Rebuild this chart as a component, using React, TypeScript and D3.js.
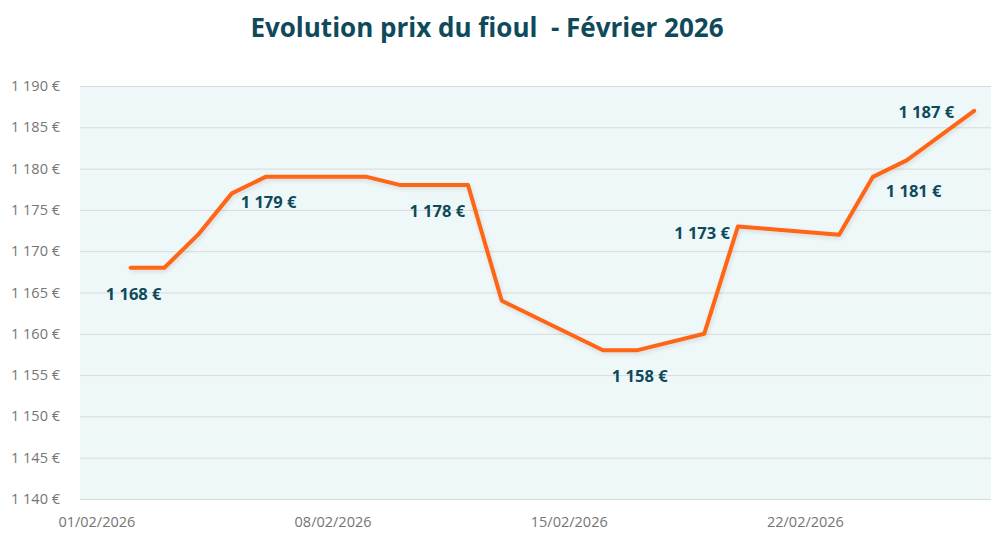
import { useEffect, useRef } from 'react'
import * as d3 from 'd3'

// daily price points (only the days that appear on the line)
const dates: string[] = [
  '2026-02-02', '2026-02-03', '2026-02-04', '2026-02-05', '2026-02-06',
  '2026-02-09', '2026-02-10', '2026-02-11', '2026-02-12', '2026-02-13',
  '2026-02-16', '2026-02-17', '2026-02-19', '2026-02-20', '2026-02-23',
  '2026-02-24', '2026-02-25', '2026-02-27',
]
const prices: number[] = [
  1168, 1168, 1172, 1177, 1179,
  1179, 1178, 1178, 1178, 1164,
  1158, 1158, 1160, 1173, 1172,
  1179, 1181, 1187,
]
// points that carry a value label
const labelledDates: string[] = [
  '2026-02-02', '2026-02-06', '2026-02-11', '2026-02-17', '2026-02-20', '2026-02-25', '2026-02-27',
]
const xTickDates: string[] = ['2026-02-01', '2026-02-08', '2026-02-15', '2026-02-22']
const yTicks: number[] = [1140, 1145, 1150, 1155, 1160, 1165, 1170, 1175, 1180, 1185, 1190]

const title = 'Evolution prix du fioul  - Février 2026'

const parse = d3.timeParse('%Y-%m-%d')
const fmtDate = d3.timeFormat('%d/%m/%Y')
const fmtEuro = (v: number) => d3.format(',')(v).replace(/,/g, ' ') + ' €'

// label placement relative to its point: anchor, dx, dy
const placement: Record<string, [string, number, number]> = {
  '2026-02-02': ['middle', 3, 32],
  '2026-02-06': ['middle', 3, 31],
  '2026-02-11': ['middle', 3, 32],
  '2026-02-17': ['middle', 3, 32],
  '2026-02-20': ['end', -8, 13],
  '2026-02-25': ['middle', 7, 37],
  '2026-02-27': ['end', -20, 7],
}

const App = () => {
  const svgRef = useRef<SVGSVGElement | null>(null)

  useEffect(() => {
    const width = 1006
    const height = 548
    const margin = { top: 86, right: 15, bottom: 49, left: 80 }
    const innerWidth = width - margin.left - margin.right
    const innerHeight = height - margin.top - margin.bottom

    const svg = d3.select(svgRef.current)
    svg.selectAll('*').remove()
    svg.attr('width', width).attr('height', height).attr('viewBox', `0 0 ${width} ${height}`)

    const data = dates.map((d, i) => ({ date: parse(d)!, price: prices[i], key: d }))

    const start = d3.timeHour.offset(parse('2026-01-31')!, 12)
    const end = d3.timeHour.offset(parse('2026-02-27')!, 12)
    const x = d3.scaleTime().domain([start, end]).range([0, innerWidth])
    const y = d3.scaleLinear().domain([1140, 1190]).range([innerHeight, 0])

    const defs = svg.append('defs')
    const shadow = defs.append('filter').attr('id', 'line-shadow').attr('x', '-5%').attr('y', '-5%').attr('width', '110%').attr('height', '120%')
    shadow
      .append('feDropShadow')
      .attr('dx', 1)
      .attr('dy', 2)
      .attr('stdDeviation', 2)
      .attr('flood-color', '#000')
      .attr('flood-opacity', 0.12)

    svg
      .append('text')
      .attr('x', 487)
      .attr('y', 37)
      .attr('text-anchor', 'middle')
      .attr('font-family', '"Open Sans", sans-serif')
      .attr('font-weight', 700)
      .attr('font-size', 26)
      .attr('fill', '#0e4a5b')
      .style('white-space', 'pre')
      .text(title)

    const g = svg.append('g').attr('transform', `translate(${margin.left},${margin.top})`)

    g.append('rect').attr('width', innerWidth).attr('height', innerHeight).attr('fill', '#eff8f9')

    g.append('g')
      .selectAll('line')
      .data(yTicks)
      .join('line')
      .attr('x1', 0)
      .attr('x2', innerWidth)
      .attr('y1', (d) => y(d) + 0.5)
      .attr('y2', (d) => y(d) + 0.5)
      .attr('stroke', '#d9d9d9')
      .attr('stroke-width', 1)

    g.append('g')
      .selectAll('text')
      .data(yTicks)
      .join('text')
      .attr('x', -20)
      .attr('y', (d) => y(d) + 5)
      .attr('text-anchor', 'end')
      .attr('font-family', '"Open Sans", sans-serif')
      .attr('font-size', 14.5)
      .attr('fill', '#757575')
      .text((d) => fmtEuro(d))

    g.append('g')
      .selectAll('text')
      .data(xTickDates.map((d) => parse(d)!))
      .join('text')
      .attr('x', (d) => x(d))
      .attr('y', innerHeight + 28)
      .attr('text-anchor', 'middle')
      .attr('font-family', '"Open Sans", sans-serif')
      .attr('font-size', 14.5)
      .attr('fill', '#757575')
      .text((d) => fmtDate(d))

    const line = d3
      .line<{ date: Date; price: number }>()
      .x((d) => x(d.date))
      .y((d) => y(d.price))

    g.append('path')
      .datum(data)
      .attr('fill', 'none')
      .attr('stroke', '#ff6513')
      .attr('stroke-width', 4)
      .attr('stroke-linejoin', 'round')
      .attr('stroke-linecap', 'round')
      .attr('filter', 'url(#line-shadow)')
      .attr('d', line)

    g.append('g')
      .selectAll('text')
      .data(data.filter((d) => labelledDates.includes(d.key)))
      .join('text')
      .attr('x', (d) => x(d.date) + placement[d.key][1])
      .attr('y', (d) => y(d.price) + placement[d.key][2])
      .attr('text-anchor', (d) => placement[d.key][0])
      .attr('font-family', '"Open Sans", sans-serif')
      .attr('font-weight', 700)
      .attr('font-size', 16.5)
      .attr('fill', '#0e4a5b')
      .text((d) => fmtEuro(d.price))
  }, [])

  return (
    <div style={{ margin: -8, background: '#fff' }}>
      <svg ref={svgRef} style={{ display: 'block' }} />
    </div>
  )
}

export default App
